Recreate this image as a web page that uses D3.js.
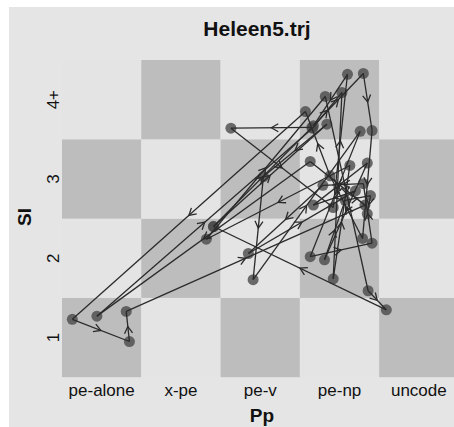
<!DOCTYPE html>
<html>
<head>
<meta charset="utf-8">
<script src="https://cdn.jsdelivr.net/npm/d3@7"></script>
<style>
  html, body { margin: 0; padding: 0; background: #ffffff; }
  svg { display: block; font-family: "Liberation Sans", Arial, sans-serif; }
</style>
</head>
<body>
<svg id="chart" width="454" height="427"></svg>
<script>
// ---- data ----
const titleText = "Heleen5.trj";
const xTitle = "Pp";
const yTitle = "SI";
const xCategories = ["pe-alone", "x-pe", "pe-v", "pe-np", "uncode"];
const yCategories = ["1", "2", "3", "4+"];

// trajectory of visits (in order): state on each axis plus within-cell jitter (fraction of a cell)
const visitPp = ["x-pe","pe-np","pe-v","pe-np","pe-np","pe-np","pe-np","pe-np","pe-np","pe-np",
                 "pe-np","pe-alone","pe-alone","pe-alone","pe-np","pe-np","pe-alone","pe-np","pe-np","pe-np",
                 "pe-np","x-pe","pe-np","pe-np","uncode","x-pe","pe-np","pe-v","pe-v","pe-np",
                 "pe-np","pe-np","pe-np","pe-np","pe-v","pe-np","pe-np","pe-np","pe-np",
                 "pe-np","pe-np","pe-np"];
const visitSI = ["2","4+","4+","3","4+","4+","4+","4+","2","3",
                 "4+","1","1","1","3","3","1","4+","4+","2",
                 "3","2","4+","2","1","2","4+","3","2","4+",
                 "2","2","3","3","2","3","3","3","2",
                 "3","3","3"];
const jitterX = [0.41,-0.35,-0.37,-0.08,0.10,-0.33,0.30,0.41,0.29,-0.12,
                 -0.43,-0.37,0.35,0.31,0.32,-0.37,-0.06,-0.34,0.03,-0.08,
                 0.13,0.32,-0.18,0.36,-0.41,0.41,-0.16,0.04,-0.09,0.26,
                 -0.37,0.41,0.30,-0.21,-0.15,0.20,-0.33,0.35,-0.19,
                 0.07,0.39,0.35];
const jitterY = [0.40,-0.35,-0.36,-0.36,0.32,-0.33,0.33,-0.39,0.25,0.04,
                 -0.15,0.23,-0.05,0.33,-0.33,0.22,0.27,-0.36,0.09,-0.26,
                 0.17,0.24,0.04,-0.41,0.35,0.40,-0.31,0.03,-0.27,-0.40,
                 0.02,0.19,-0.06,-0.08,0.06,-0.15,-0.33,0.20,-0.02,
                 -0.27,-0.21,-0.44];

const visits = visitPp.map((p, i) => ({ pp: p, si: visitSI[i], jx: jitterX[i], jy: jitterY[i] }));

// ---- layout ----
const svg = d3.select("#chart");
const W = 454, H = 427;
const plot = { left: 62, top: 60, cell: 79.3 };

svg.append("rect").attr("x", 9).attr("y", 7).attr("width", W - 9).attr("height", H - 7).attr("fill", "#e5e5e5");

const x = d3.scaleBand().domain(xCategories).range([plot.left, plot.left + plot.cell * xCategories.length]);
const y = d3.scaleBand().domain(yCategories).range([plot.top + plot.cell * yCategories.length, plot.top]);

// checkerboard cells
const cells = [];
xCategories.forEach((xc, i) => yCategories.forEach((yc, j) => cells.push({ xc, yc, dark: (i + j) % 2 === 0 })));
svg.append("g").selectAll("rect").data(cells).join("rect")
  .attr("x", d => x(d.xc)).attr("y", d => y(d.yc))
  .attr("width", x.bandwidth()).attr("height", y.bandwidth())
  .attr("fill", d => d.dark ? "#bdbdbd" : "#e4e4e4");

// title
svg.append("text").attr("x", 257).attr("y", 36).attr("text-anchor", "middle")
  .attr("font-size", 21).attr("font-weight", "bold").attr("fill", "#111").text(titleText);

// axes
const xAxis = svg.append("g").attr("transform", `translate(0,${plot.top + plot.cell * 4})`)
  .call(d3.axisBottom(x).tickSize(0).tickPadding(7));
xAxis.select(".domain").remove();
xAxis.selectAll("text").attr("font-size", 17).attr("fill", "#111").attr("font-family", "Liberation Sans, Arial, sans-serif");

const yAxis = svg.append("g").attr("transform", `translate(${plot.left},0)`)
  .call(d3.axisLeft(y).tickSize(0));
yAxis.select(".domain").remove();
yAxis.selectAll(".tick text")
  .attr("x", null).attr("dy", null).attr("text-anchor", "middle")
  .attr("transform", "translate(-3,0) rotate(-90)")
  .attr("font-size", 17).attr("fill", "#111").attr("font-family", "Liberation Sans, Arial, sans-serif");

svg.append("text").attr("x", 262).attr("y", 422).attr("text-anchor", "middle")
  .attr("font-size", 19).attr("font-weight", "bold").attr("fill", "#111").text(xTitle);
svg.append("text").attr("transform", "translate(31,217) rotate(-90)").attr("text-anchor", "middle")
  .attr("font-size", 19).attr("font-weight", "bold").attr("fill", "#111").text(yTitle);

// trajectory positions
const px = d => x(d.pp) + x.bandwidth() / 2 + d.jx * x.bandwidth();
const py = d => y(d.si) + y.bandwidth() / 2 - d.jy * y.bandwidth();

// points
svg.append("g").selectAll("circle").data(visits).join("circle")
  .attr("cx", px).attr("cy", py).attr("r", 5.5)
  .attr("fill", "#4a4a4a").attr("fill-opacity", 0.8);

// segments
const segs = d3.pairs(visits);
svg.append("g").selectAll("line").data(segs).join("line")
  .attr("x1", d => px(d[0])).attr("y1", d => py(d[0]))
  .attr("x2", d => px(d[1])).attr("y2", d => py(d[1]))
  .attr("stroke", "#2b2b2b").attr("stroke-width", 1.3);

// arrowheads (open chevrons at segment midpoints)
svg.append("g").selectAll("path").data(segs).join("path")
  .attr("d", d => {
    const x0 = px(d[0]), y0 = py(d[0]), x1 = px(d[1]), y1 = py(d[1]);
    const mx = (x0 + x1) / 2, my = (y0 + y1) / 2;
    const a = Math.atan2(y1 - y0, x1 - x0);
    const L = 8, s = Math.PI / 6;
    const p1 = [mx - L * Math.cos(a - s), my - L * Math.sin(a - s)];
    const p2 = [mx - L * Math.cos(a + s), my - L * Math.sin(a + s)];
    return `M${p1[0]},${p1[1]}L${mx},${my}L${p2[0]},${p2[1]}`;
  })
  .attr("fill", "none").attr("stroke", "#2b2b2b").attr("stroke-width", 1.3);
</script>
</body>
</html>
